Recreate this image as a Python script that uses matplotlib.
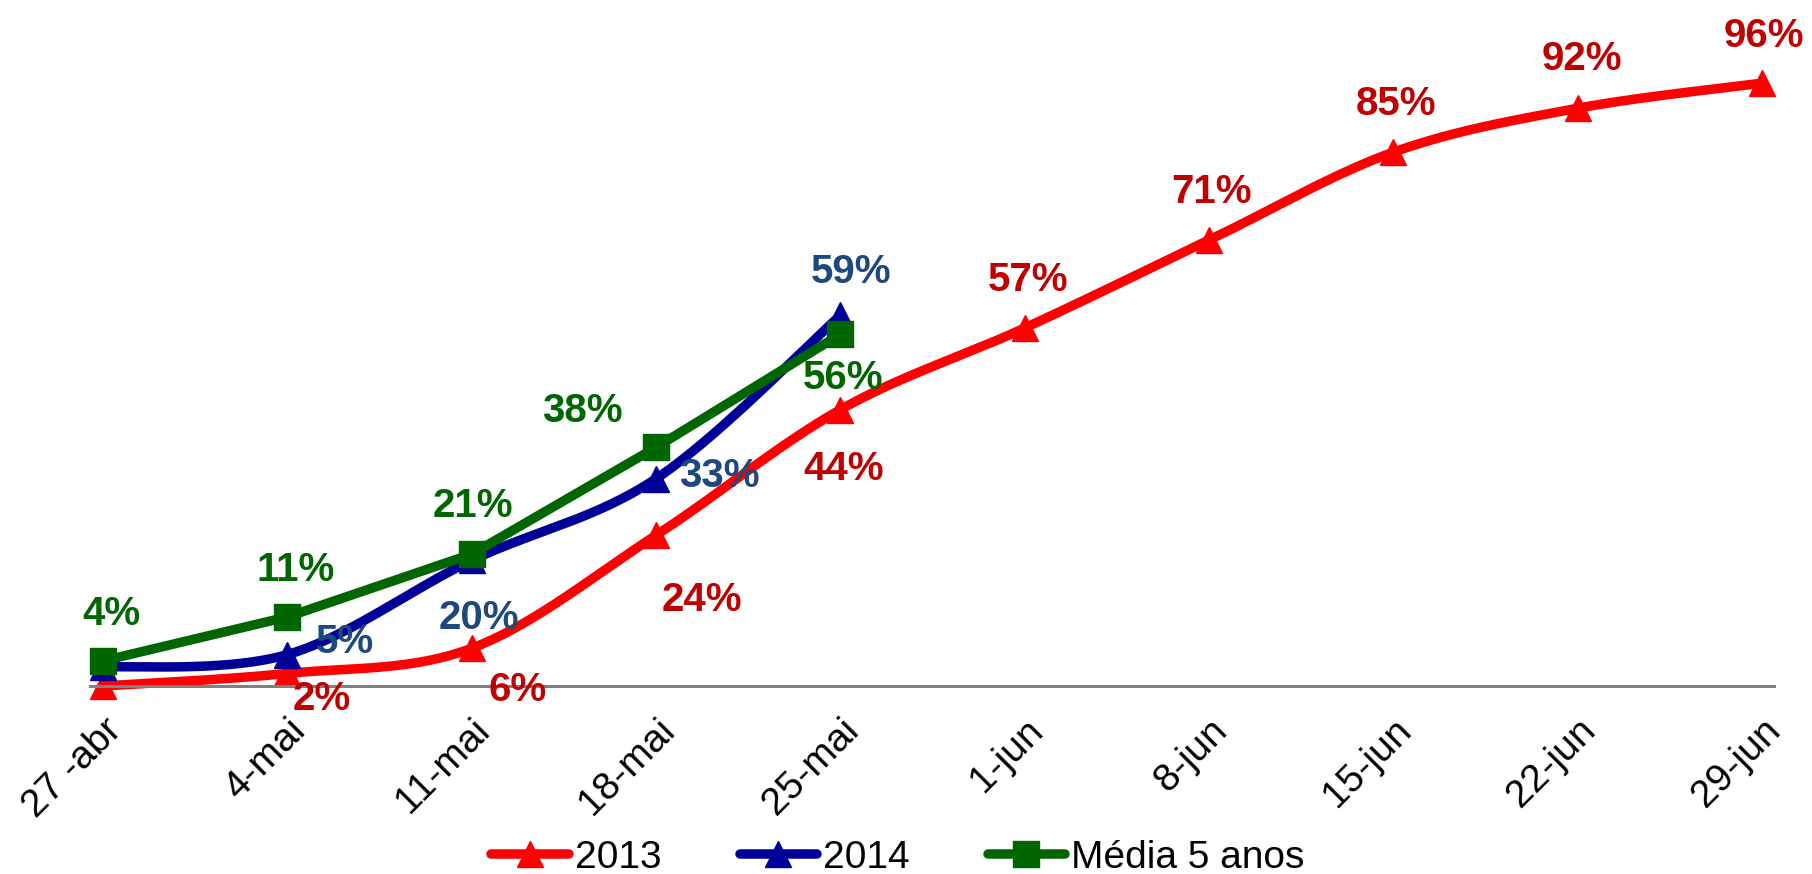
import numpy as np
import matplotlib
matplotlib.use("Agg")
import matplotlib.pyplot as plt
from matplotlib.lines import Line2D
from matplotlib.transforms import ScaledTranslation

plt.rcParams['font.family'] = ['Liberation Sans', 'DejaVu Sans']

# ---- data ----
categories = ["27 -abr", "4-mai", "11-mai", "18-mai", "25-mai",
              "1-jun", "8-jun", "15-jun", "22-jun", "29-jun"]
serie_2013 = [0, 2, 6, 24, 44, 57, 71, 85, 92, 96]
serie_2014 = [3, 5, 20, 33, 59]
media_5_anos = [4, 11, 21, 38, 56]
labels_2013 = [None, "2%", "6%", "24%", "44%", "57%", "71%", "85%", "92%", "96%"]
labels_2014 = [None, "5%", "20%", "33%", "59%"]
labels_media = ["4%", "11%", "21%", "38%", "56%"]
series_names = ["2013", "2014", "Média 5 anos"]

# ---- styles ----
RED, RED_T = "#FF0000", "#C00000"
BLUE, BLUE_T = "#000099", "#1F497D"
GREEN, GREEN_T = "#006600", "#006600"
LW = 9.5 * 0.72
MS = 26 * 0.72
FS = 29
FS_TICK = 28

# label offsets in pixels (dx right, dy down)
off_2013 = [None, (34, 22), (46, 38), (46, 61), (3, 55), (3, -52), (3, -52), (3, -52), (4, -53), (2, -51)]
off_2014 = [None, (58, -17), (7, 54), (63, -7), (11, -47)]
off_media = [(8, -51), (8, -51), (1, -52), (-74, -40), (3, 40)]


def smooth(xs, ys, n=40):
    P = np.column_stack([xs, ys]).astype(float)
    out = [P[0]]
    for i in range(len(P) - 1):
        p0 = P[i - 1] if i > 0 else P[i]
        p1, p2 = P[i], P[i + 1]
        p3 = P[i + 2] if i + 2 < len(P) else P[i + 1]
        c1 = p1 + (p2 - p0) / 6.0
        c2 = p2 - (p3 - p1) / 6.0
        t = np.linspace(0, 1, n)[1:, None]
        seg = ((1 - t) ** 3) * p1 + 3 * ((1 - t) ** 2) * t * c1 + 3 * (1 - t) * t ** 2 * c2 + t ** 3 * p2
        out.extend(seg)
    out = np.array(out)
    return out[:, 0], out[:, 1]


fig = plt.figure(figsize=(18.12, 8.74), dpi=100)
W, H = 1812, 874
ax = fig.add_axes([90 / W, 1 - 686 / H, (1774 - 90) / W, 628 / H])

x_all = np.arange(len(categories))

series = [
    (serie_2013, labels_2013, off_2013, RED, RED_T, "^", True),
    (serie_2014, labels_2014, off_2014, BLUE, BLUE_T, "^", True),
    (media_5_anos, labels_media, off_media, GREEN, GREEN_T, "s", False),
]

for vals, labs, offs, col, tcol, mk, sm in series:
    xs = x_all[:len(vals)]
    if sm:
        sx, sy = smooth(xs, vals)
    else:
        sx, sy = xs, vals
    ax.plot(sx, sy, color=col, lw=LW, solid_capstyle='round', solid_joinstyle='round', clip_on=False)
    ax.plot(xs, vals, linestyle='none', marker=mk, ms=MS, color=col, mec=col, clip_on=False)
    for xi, v, lab, off in zip(xs, vals, labs, offs):
        if lab is None:
            continue
        ax.annotate(lab, (xi, v), xytext=(off[0], -off[1]), textcoords='offset pixels',
                    ha='center', va='center_baseline', color=tcol, fontsize=FS,
                    fontweight='bold', annotation_clip=False)

ax.set_xlim(-13 / 184.3, 9 + 12 / 184.3)
ax.set_ylim(0, 100)
for s in ['top', 'right', 'left']:
    ax.spines[s].set_visible(False)
ax.spines['bottom'].set_color('#808080')
ax.spines['bottom'].set_linewidth(3 * 0.72)
ax.set_yticks([])
ax.set_xticks(x_all, categories, rotation=45, ha='right', va='top', rotation_mode='anchor', fontsize=FS_TICK)
ax.tick_params(axis='x', length=0, pad=19)

handles = [
    Line2D([], [], color=RED, lw=LW, marker="^", ms=MS, solid_capstyle='round'),
    Line2D([], [], color=BLUE, lw=LW, marker="^", ms=MS, solid_capstyle='round'),
    Line2D([], [], color=GREEN, lw=LW, marker="s", ms=MS, solid_capstyle='round'),
]
fig.legend(handles, series_names, loc='center', bbox_to_anchor=(898 / W, 1 - 858 / H),
           ncol=3, frameon=False, fontsize=FS_TICK, handlelength=2.0, handletextpad=0.15,
           columnspacing=2.0, numpoints=1, borderpad=0)

fig.savefig("out.png", dpi=100)
